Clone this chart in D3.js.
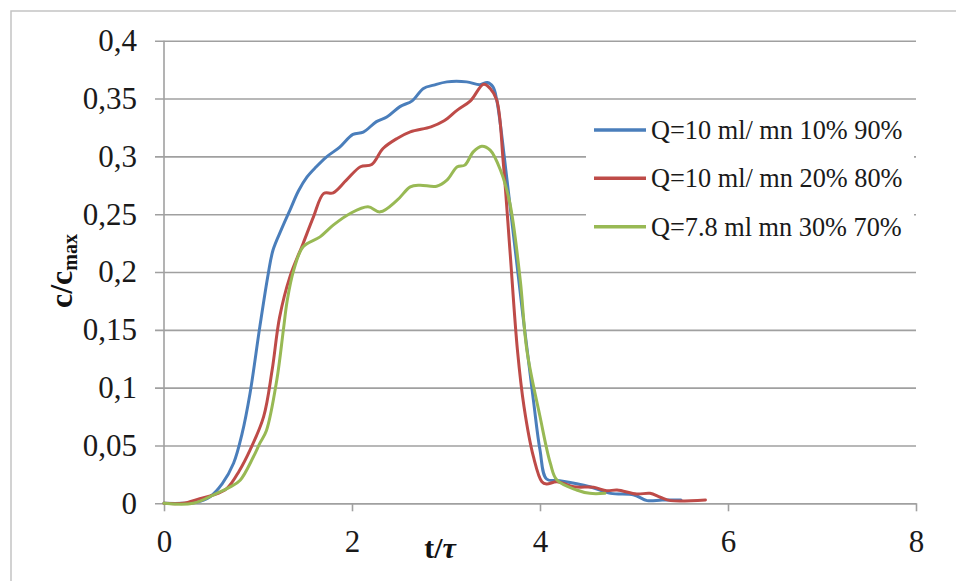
<!DOCTYPE html>
<html>
<head>
<meta charset="utf-8">
<script src="https://cdn.jsdelivr.net/npm/d3@7"></script>
<style>
  html, body { margin: 0; padding: 0; background: #fff; }
  svg { display: block; }
  svg text { font-family: "Liberation Serif", "Times New Roman", serif; }
</style>
</head>
<body>
<svg id="chart" width="956" height="581"></svg>
<script>
// ---- data ----
const xTicks = [0, 2, 4, 6, 8];
const xTickLabels = ["0", "2", "4", "6", "8"];
const yTicks = [0, 0.05, 0.1, 0.15, 0.2, 0.25, 0.3, 0.35, 0.4];
const yTickLabels = ["0", "0,05", "0,1", "0,15", "0,2", "0,25", "0,3", "0,35", "0,4"];
const seriesNames = ["Q=10 ml/ mn 10% 90%", "Q=10 ml/ mn 20% 80%", "Q=7.8 ml mn 30% 70%"];
const seriesColors = ["#4A7EBB", "#BE4B48", "#98B954"];

const blueT = [0, 0.2, 0.35, 0.49, 0.62, 0.74, 0.83, 0.915, 1.02, 1.11, 1.16, 1.25, 1.34, 1.43, 1.52, 1.62, 1.73, 1.87, 2.01, 2.12, 2.26, 2.37, 2.51, 2.64, 2.76, 2.87, 3.01, 3.22, 3.36, 3.44, 3.50, 3.54, 3.65, 3.82, 3.93, 4.0, 4.07, 4.21, 4.53, 4.75, 5.0, 5.14, 5.3, 5.5];
const blueC = [0, 0, 0.001, 0.0057, 0.017, 0.0346, 0.06, 0.095, 0.153, 0.199, 0.219, 0.237, 0.2535, 0.27, 0.282, 0.291, 0.2996, 0.308, 0.319, 0.321, 0.330, 0.334, 0.343, 0.348, 0.3587, 0.3616, 0.3644, 0.3644, 0.362, 0.3638, 0.360, 0.3486, 0.279, 0.161, 0.089, 0.046, 0.021, 0.0195, 0.0143, 0.0086, 0.0072, 0.0023, 0.0029, 0.0029];

const redT = [0, 0.2, 0.38, 0.52, 0.67, 0.8, 0.915, 1.06, 1.15, 1.23, 1.34, 1.48, 1.59, 1.70, 1.80, 1.94, 2.09, 2.21, 2.33, 2.48, 2.62, 2.84, 2.98, 3.12, 3.26, 3.40, 3.47, 3.54, 3.61, 3.68, 3.76, 3.83, 3.93, 4.02, 4.07, 4.18, 4.36, 4.57, 4.71, 4.82, 5.03, 5.17, 5.28, 5.39, 5.76];
const redC = [0, 0, 0.004, 0.007, 0.013, 0.028, 0.046, 0.075, 0.115, 0.161, 0.196, 0.2247, 0.2477, 0.268, 0.2685, 0.2794, 0.291, 0.293, 0.3068, 0.3155, 0.3212, 0.3255, 0.3307, 0.340, 0.348, 0.3624, 0.3587, 0.3486, 0.294, 0.219, 0.1325, 0.0835, 0.0403, 0.0187, 0.0167, 0.0187, 0.0143, 0.0138, 0.0109, 0.0115, 0.008, 0.0086, 0.0052, 0.0023, 0.0029];

const greenT = [0, 0.31, 0.56, 0.7, 0.81, 0.95, 1.02, 1.09, 1.2, 1.27, 1.31, 1.38, 1.48, 1.66, 1.80, 1.98, 2.17, 2.30, 2.48, 2.62, 2.72, 2.90, 3.01, 3.12, 3.20, 3.29, 3.38, 3.47, 3.58, 3.68, 3.79, 3.86, 4.0, 4.11, 4.18, 4.39, 4.53, 4.69];
const greenC = [0, 0, 0.0086, 0.014, 0.020, 0.040, 0.052, 0.063, 0.1066, 0.150, 0.175, 0.2016, 0.2218, 0.2304, 0.2405, 0.2506, 0.2564, 0.252, 0.2621, 0.2736, 0.2751, 0.2742, 0.2794, 0.291, 0.2924, 0.3039, 0.3088, 0.3054, 0.288, 0.2593, 0.193, 0.1325, 0.075, 0.0346, 0.0201, 0.0115, 0.0086, 0.0086];

const series = [
  { name: seriesNames[0], color: seriesColors[0], t: blueT, c: blueC },
  { name: seriesNames[1], color: seriesColors[1], t: redT, c: redC },
  { name: seriesNames[2], color: seriesColors[2], t: greenT, c: greenC }
];

// ---- layout ----
const FONT = "'Liberation Serif', 'Times New Roman', serif";
const svg = d3.select("#chart");
const plotL = 164, plotR = 916, plotT = 40.7, plotB = 503.3;
const x = d3.scaleLinear().domain([0, 8]).range([plotL, plotR]);
const y = d3.scaleLinear().domain([0, 0.4]).range([plotB, plotT]);
const gridColor = "#a0a0a0";

// outer frame
svg.append("rect").attr("x", 11).attr("y", 11).attr("width", 960).attr("height", 600)
  .attr("fill", "none").attr("stroke", "#c4c4c4").attr("stroke-width", 1.5);

// y axis with gridlines
const yAxis = d3.axisLeft(y).tickValues(yTicks)
  .tickFormat((d, i) => yTickLabels[i])
  .tickSizeInner(-(plotR - (plotL - 9))).tickSizeOuter(0).tickPadding(18);
const gy = svg.append("g").attr("transform", `translate(${plotL - 9},0)`).call(yAxis);
gy.select(".domain").remove();
gy.selectAll(".tick line").attr("stroke", gridColor).attr("stroke-width", 1.6);
gy.selectAll(".tick text").style("font-family", FONT).style("font-size", "31px").attr("fill", "#1a1a1a");

// y axis vertical line
svg.append("line").attr("x1", plotL).attr("x2", plotL).attr("y1", plotT).attr("y2", plotB)
  .attr("stroke", gridColor).attr("stroke-width", 1.6);

// x axis
const xAxis = d3.axisBottom(x).tickValues(xTicks)
  .tickFormat((d, i) => xTickLabels[i])
  .tickSizeInner(8).tickSizeOuter(0).tickPadding(19);
const gx = svg.append("g").attr("transform", `translate(0,${plotB})`).call(xAxis);
gx.select(".domain").attr("stroke", gridColor).attr("stroke-width", 1.6);
gx.selectAll(".tick line").attr("stroke", gridColor).attr("stroke-width", 1.6);
gx.selectAll(".tick text").style("font-family", FONT).style("font-size", "31px").attr("fill", "#1a1a1a");

// legend background (covers gridlines)
svg.append("rect").attr("x", 586).attr("y", 106).attr("width", 328).attr("height", 146)
  .attr("fill", "#fff");

// series lines
const line = d3.line()
  .x(d => x(d[0])).y(d => y(d[1]))
  .curve(d3.curveCatmullRom.alpha(0.5));
series.forEach(s => {
  const pts = s.t.map((t, i) => [t, s.c[i]]);
  svg.append("path").datum(pts).attr("d", line)
    .attr("fill", "none").attr("stroke", s.color).attr("stroke-width", 3)
    .attr("stroke-linejoin", "round").attr("stroke-linecap", "round");
});

// legend
const legY = [130, 178.3, 226.7];
series.forEach((s, i) => {
  svg.append("line").attr("x1", 594).attr("x2", 646).attr("y1", legY[i]).attr("y2", legY[i])
    .attr("stroke", s.color).attr("stroke-width", 3.5);
  svg.append("text").attr("x", 651).attr("y", legY[i] + 9)
    .style("font-family", FONT).style("font-size", "26.3px").attr("fill", "#1a1a1a").text(s.name);
});

// y axis title
const yt = svg.append("text").attr("transform", "translate(72,271) rotate(-90)")
  .attr("text-anchor", "middle").style("font-family", FONT).style("font-weight", "bold")
  .style("font-size", "32px").attr("fill", "#111");
yt.append("tspan").text("c/c");
yt.append("tspan").style("font-size", "20px").attr("dy", 5).text("max");

// x axis title
const xt = svg.append("text").attr("x", 440).attr("y", 558)
  .attr("text-anchor", "middle").style("font-family", FONT).style("font-weight", "bold")
  .style("font-size", "30px").attr("fill", "#111");
xt.append("tspan").text("t/");
xt.append("tspan").style("font-style", "italic").text("τ");
</script>
</body>
</html>
